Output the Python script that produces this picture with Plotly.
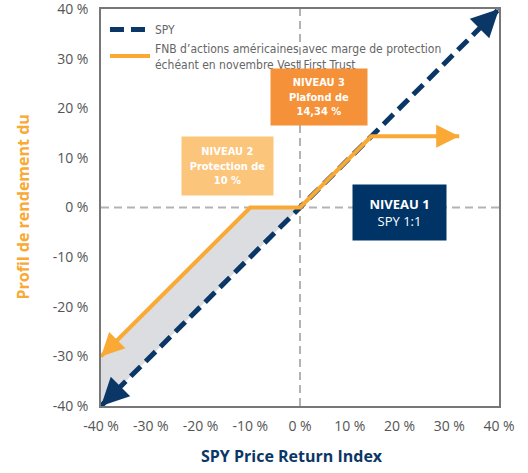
import plotly.graph_objects as go

# ---- data ----
spy_x = [-40, 40]
spy_y = [-40, 40]
fnb_x = [-40, -10, 0, 14.34, 32]
fnb_y = [-30, 0, 0, 14.34, 14.34]
tick_vals = [-40, -30, -20, -10, 0, 10, 20, 30, 40]
tick_text = ["-40 %", "-30 %", "-20 %", "-10 %", "0 %", "10 %", "20 %", "30 %", "40 %"]
spy_name = "SPY"
fnb_name = "FNB d’actions américaines avec marge de protection<br>échéant en novembre Vest First Trust"

NAVY = "#0b3766"
ORANGE = "#f9a934"
GRAY_TXT = "#555555"
NARROW = "DejaVu Sans Condensed, sans-serif"

# fill polygon between buffer line and SPY for x <= 0
poly_x = [x for x in fnb_x if x <= 0] + [0, spy_x[0]]
poly_y = [y for x, y in zip(fnb_x, fnb_y) if x <= 0] + [0, spy_y[0]]

fig = go.Figure()
fig.add_trace(go.Scatter(x=poly_x, y=poly_y, fill="toself", fillcolor="#dcdde0",
                         line=dict(width=0), mode="lines", showlegend=False, hoverinfo="skip"))
fig.add_trace(go.Scatter(x=spy_x, y=spy_y, mode="lines", name=spy_name,
                         line=dict(color=NAVY, width=5, dash="14px,7px")))
fig.add_trace(go.Scatter(x=fnb_x, y=fnb_y, mode="lines", name=fnb_name,
                         line=dict(color=ORANGE, width=4)))

# zero reference lines
fig.add_shape(type="line", x0=0, x1=0, y0=-40, y1=40, xref="x", yref="y",
              line=dict(color="#b3b3b3", width=2, dash="8px,5px"), layer="below")
fig.add_shape(type="line", x0=-40, x1=40, y0=0, y1=0, xref="x", yref="y",
              line=dict(color="#b3b3b3", width=2, dash="8px,5px"), layer="below")

def arrow(tip_x, tip_y, from_x, from_y, color, width, size):
    fig.add_annotation(x=tip_x, y=tip_y, ax=from_x, ay=from_y, xref="x", yref="y",
                       axref="x", ayref="y", showarrow=True, arrowhead=2,
                       arrowsize=size, arrowwidth=width, arrowcolor=color, text="",
                       standoff=0, startstandoff=0)

# arrowheads at line ends
arrow(spy_x[-1], spy_y[-1], spy_x[-1] - 3, spy_y[-1] - 3, NAVY, 5, 1.1)
arrow(spy_x[0], spy_y[0], spy_x[0] + 3, spy_y[0] + 3, NAVY, 5, 1.1)
arrow(fnb_x[-1], fnb_y[-1], fnb_x[-1] - 3, fnb_y[-1], ORANGE, 4, 1.15)
arrow(fnb_x[0], fnb_y[0], fnb_x[0] + 3, fnb_y[0] + 3, ORANGE, 4, 1.15)

# labelled boxes
fig.add_annotation(x=3.8, y=22.2, xref="x", yref="y", showarrow=False,
                   text="<b>NIVEAU 3</b><br><b>Plafond de</b><br><b>14,34 %</b>",
                   bgcolor="#f59138", width=96, height=56, borderpad=0,
                   font=dict(family=NARROW, size=11, color="white"))
fig.add_annotation(x=-14.6, y=8.3, xref="x", yref="y", showarrow=False,
                   text="<b>NIVEAU 2</b><br><b>Protection de</b><br><b>10 %</b>",
                   bgcolor="#fcc57c", width=91, height=58, borderpad=0,
                   font=dict(family=NARROW, size=11, color="white"))
fig.add_annotation(x=20.0, y=-1.0, xref="x", yref="y", showarrow=False,
                   text="<b>NIVEAU 1</b><br>SPY 1:1",
                   bgcolor="#003466", width=93, height=55, borderpad=0,
                   font=dict(family="Open Sans, sans-serif", size=13, color="white"))

# axis titles
fig.add_annotation(x=0, y=0.5, xref="paper", yref="paper", xshift=-79, showarrow=False,
                   xanchor="center", yanchor="middle",
                   text="<b>Profil de rendement du</b>", textangle=-90,
                   font=dict(family="Open Sans, sans-serif", size=16, color=ORANGE))
fig.add_annotation(x=0.48, y=0, xref="paper", yref="paper", yshift=-50, showarrow=False,
                   xanchor="center", yanchor="middle",
                   text="<b>SPY Price Return Index</b>",
                   font=dict(family="Open Sans, sans-serif", size=16, color=NAVY))

axis_common = dict(range=[-40, 40], tickvals=tick_vals, ticktext=tick_text,
                   showgrid=False, zeroline=False, showline=True, linecolor="#777777",
                   linewidth=1.5, mirror=True, ticks="", automargin=False,
                   ticklabeloverflow="allow",
                   tickfont=dict(family="Open Sans, sans-serif", size=14, color=GRAY_TXT))
fig.update_xaxes(**axis_common, ticklabelstandoff=6)
fig.update_yaxes(**axis_common, ticklabelstandoff=8)

fig.update_layout(
    width=528, height=473,
    margin=dict(l=101, r=29, t=9, b=67, autoexpand=False),
    paper_bgcolor="white", plot_bgcolor="white",
    legend=dict(x=0.01, y=0.985, xanchor="left", yanchor="top", bgcolor="rgba(0,0,0,0)",
                font=dict(family=NARROW, size=12, color="#666666"), tracegroupgap=0,
                itemwidth=40),
)

fig.write_html("out.html", config={"displayModeBar": False},
               post_script="document.body.style.margin='0';")
